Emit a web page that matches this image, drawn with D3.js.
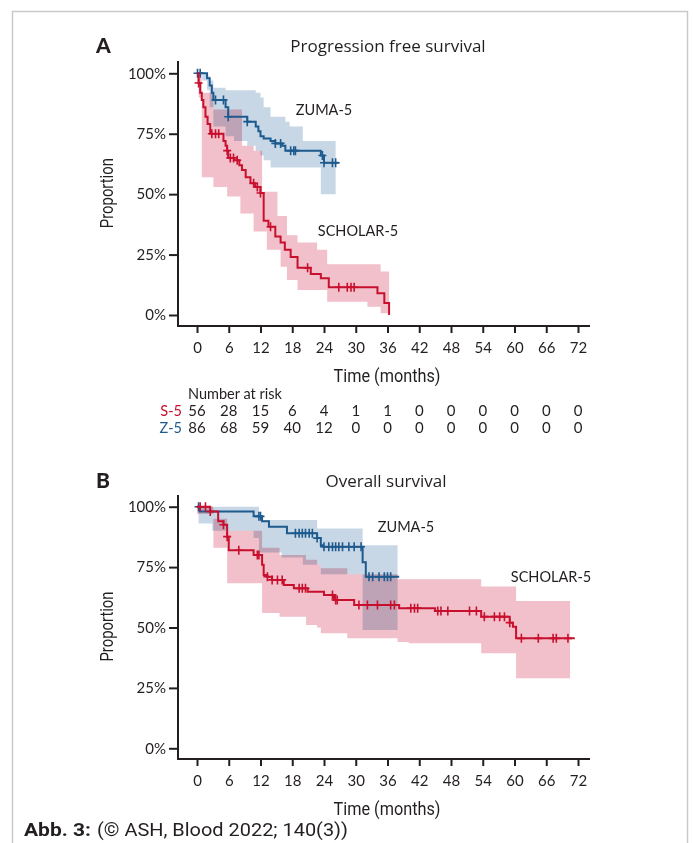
<!DOCTYPE html>
<html>
<head>
<meta charset="utf-8">
<script src="https://cdn.jsdelivr.net/npm/d3@7"></script>
<style>
    body { margin: 0; background: #fff; }
    svg text { fill: #231f20; }
    .lato { font-family: Lato, "Open Sans", sans-serif; }
    .open { font-family: "Open Sans", Lato, sans-serif; }
    .cond { font-family: Roboto, "Liberation Sans", sans-serif; }
</style>
</head>
<body>
<div id="chart"></div>
<script>
// ---- data ----
const xTicks = [0, 6, 12, 18, 24, 30, 36, 42, 48, 54, 60, 66, 72];
const yTicks = [0, 0.25, 0.5, 0.75, 1];
const riskS5 = [56, 28, 15, 6, 4, 1, 1, 0, 0, 0, 0, 0, 0];
const riskZ5 = [86, 68, 59, 40, 12, 0, 0, 0, 0, 0, 0, 0, 0];

// A: progression free survival
const pfsZumaT = [0, 1.9, 2.4, 2.8, 3.1, 5.4, 5.9, 9.5, 11.1, 11.6, 12.0, 12.6, 13.9, 14.8, 16.1, 16.7, 23.4, 24.0, 26.8];
const pfsZumaS = [1.0, 0.98, 0.95, 0.92, 0.89, 0.86, 0.82, 0.80, 0.78, 0.76, 0.74, 0.73, 0.72, 0.71, 0.70, 0.68, 0.66, 0.63, 0.63];
const pfsZumaCens = [0.1, 0.6, 3.5, 5.0, 5.9, 9.5, 14.8, 15.8, 17.7, 18.3, 18.6, 23.7, 24.0, 25.6, 26.2];
const pfsZumaBandT = [0, 1.0, 1.9, 2.4, 3.1, 5.4, 7.0, 9.5, 11.1, 12.0, 12.6, 13.9, 16.7, 17.5, 20.0, 23.4, 26.2];
const pfsZumaLo = [1.0, 0.97, 0.93, 0.86, 0.78, 0.74, 0.72, 0.70, 0.68, 0.66, 0.64, 0.61, 0.61, 0.61, 0.61, 0.50, 0.50];
const pfsZumaHi = [1.0, 1.0, 0.99, 0.97, 0.94, 0.93, 0.93, 0.93, 0.92, 0.90, 0.86, 0.82, 0.80, 0.78, 0.72, 0.72, 0.72];

const pfsScholarT = [0, 0.3, 0.6, 0.9, 1.2, 1.6, 2.0, 2.5, 5.0, 5.4, 5.7, 5.9, 7.0, 8.0, 8.5, 9.2, 10.1, 11.0, 12.0, 12.6, 13.5, 14.8, 15.8, 16.6, 17.7, 19.0, 21.5, 23.4, 24.9, 34.1, 35.4, 36.3];
const pfsScholarS = [1.0, 0.96, 0.92, 0.89, 0.86, 0.82, 0.79, 0.75, 0.72, 0.70, 0.68, 0.65, 0.64, 0.62, 0.60, 0.57, 0.545, 0.53, 0.505, 0.39, 0.365, 0.325, 0.30, 0.27, 0.24, 0.195, 0.17, 0.152, 0.115, 0.09, 0.05, 0.0];
const pfsScholarCens = [0.3, 2.8, 3.5, 4.1, 5.7, 6.3, 6.9, 7.6, 10.7, 11.4, 12.0, 13.9, 20.9, 26.8, 28.4, 29.1, 29.7];
const pfsScholarBandT = [0, 0.3, 0.9, 3.1, 5.7, 8.2, 8.5, 10.7, 12.3, 13.2, 15.2, 15.8, 17.0, 19.0, 22.7, 24.6, 32.2, 34.7, 36.3];
const pfsScholarLo = [1.0, 0.90, 0.57, 0.53, 0.49, 0.42, 0.42, 0.345, 0.345, 0.27, 0.27, 0.20, 0.145, 0.103, 0.103, 0.055, 0.034, 0.007, 0.007];
const pfsScholarHi = [1.0, 1.0, 0.92, 0.85, 0.85, 0.85, 0.70, 0.68, 0.51, 0.51, 0.41, 0.41, 0.33, 0.30, 0.27, 0.21, 0.21, 0.18, 0.18];

// B: overall survival
const osZumaT = [0, 0.5, 10.7, 12.3, 13.6, 17.0, 22.7, 23.4, 23.8, 31.3, 31.9, 38.2];
const osZumaS = [1.0, 0.98, 0.96, 0.94, 0.917, 0.89, 0.87, 0.84, 0.834, 0.77, 0.71, 0.71];
const osZumaCens = [0.3, 11.7, 12.0, 18.6, 19.3, 19.9, 20.5, 21.2, 21.8, 22.7, 24.0, 24.9, 25.6, 26.2, 26.8, 27.5, 28.7, 29.7, 31.0, 32.5, 33.2, 34.4, 35.4, 36.0, 36.6];
const osZumaBandT = [0, 0.3, 2.9, 10.7, 11.7, 12.3, 16.0, 20.0, 22.7, 23.4, 31.3, 37.9];
const osZumaLo = [1.0, 0.93, 0.90, 0.87, 0.81, 0.81, 0.79, 0.76, 0.76, 0.72, 0.49, 0.49];
const osZumaHi = [1.0, 1.0, 1.0, 1.0, 0.945, 0.945, 0.945, 0.945, 0.91, 0.91, 0.84, 0.84];

const osScholarT = [0, 2.5, 4.0, 5.0, 5.7, 6.0, 10.7, 12.3, 12.6, 13.3, 14.2, 16.4, 18.3, 20.9, 24.0, 25.9, 29.7, 38.2, 45.0, 53.7, 59.1, 59.7, 60.3, 71.4];
const osScholarS = [1.0, 0.98, 0.94, 0.925, 0.876, 0.82, 0.80, 0.76, 0.717, 0.71, 0.697, 0.676, 0.662, 0.648, 0.635, 0.614, 0.593, 0.58, 0.568, 0.545, 0.52, 0.503, 0.455, 0.455];
const osScholarCens = [0.6, 1.6, 2.5, 5.0, 5.7, 7.9, 11.4, 11.7, 13.3, 14.2, 15.2, 16.1, 19.3, 19.9, 20.5, 25.6, 26.2, 26.5, 30.6, 32.2, 34.1, 36.6, 37.3, 40.4, 41.1, 41.7, 45.5, 46.1, 47.4, 51.5, 52.8, 54.3, 56.2, 57.2, 58.1, 59.1, 61.3, 64.5, 67.3, 67.9, 70.1];
const osScholarBandT = [0, 3.1, 5.7, 12.3, 15.6, 20.6, 22.7, 23.4, 28.4, 37.9, 40.0, 53.7, 60.3, 70.5];
const osScholarLo = [0.97, 0.83, 0.683, 0.56, 0.545, 0.51, 0.50, 0.476, 0.455, 0.44, 0.435, 0.393, 0.29, 0.29];
const osScholarHi = [1.0, 0.95, 0.90, 0.83, 0.80, 0.78, 0.76, 0.745, 0.72, 0.70, 0.70, 0.67, 0.61, 0.61];

const red = "#c8102e", blue = "#1d5a8e";
const redBand = "#f2c0ca", blueBand = "#c8d7e5";

let svg = d3.select("#chart").append("svg")
    .attr("width", 693)
    .attr("height", 843);

// outer frame
svg.append("rect")
    .attr("x", 12.5).attr("y", 11.5)
    .attr("width", 675).attr("height", 860)
    .attr("fill", "none")
    .attr("stroke", "#c9c9c9")
    .attr("stroke-width", 1.5);

let x = d3.scaleLinear().domain([0, 72]).range([197, 578]);

function stepValue(ts, ss, t) {
    let i = d3.bisectRight(ts, t) - 1;
    return ss[Math.max(0, i)];
}

function drawPanel(p) {
    let y = d3.scaleLinear().domain([0, 1]).range([p.y0, p.y100]);
    let g = svg.append("g");

    // panel letter and title
    g.append("text").attr("class", "lato")
        .attr("x", 96).attr("y", p.titleY + 1)
        .style("font-size", "21px").style("font-weight", "900")
        .text(p.letter);
    g.append("text").attr("class", "open")
        .attr("x", p.titleX).attr("y", p.titleY)
        .attr("text-anchor", "middle")
        .style("font-size", "17px")
        .text(p.title);

    // confidence bands
    let area = d3.area().curve(d3.curveStepAfter)
        .x(d => x(d[0])).y0(d => y(d[1])).y1(d => y(d[2]));
    p.curves.forEach(c => {
        g.append("path")
            .datum(c.bandT.map((t, i) => [t, c.lo[i], c.hi[i]]))
            .attr("d", area)
            .attr("fill", c.band)
            .style("mix-blend-mode", "multiply");
    });

    // step lines and censor marks
    let line = d3.line().curve(d3.curveStepAfter)
        .x(d => x(d[0])).y(d => y(d[1]));
    p.curves.forEach(c => {
        g.append("path")
            .datum(c.t.map((t, i) => [t, c.s[i]]))
            .attr("d", line)
            .attr("fill", "none")
            .attr("stroke", c.color)
            .attr("stroke-width", 2);
        g.selectAll(null)
            .data(c.cens)
            .enter().append("path")
            .attr("d", t => {
                let cx = x(t), cy = y(stepValue(c.t, c.s, t));
                return `M${cx - 4},${cy}H${cx + 4}M${cx},${cy - 4.5}V${cy + 4.5}`;
            })
            .attr("stroke", c.color)
            .attr("stroke-width", 1.6);
    });

    // curve labels
    p.labels.forEach(l => {
        g.append("text").attr("class", "lato")
            .attr("x", l.x).attr("y", l.y)
            .attr("text-anchor", "middle")
            .style("font-size", "14.5px")
            .text(l.text);
    });

    // axes
    let yAxis = g.append("g")
        .attr("transform", "translate(178,0)")
        .call(d3.axisLeft(y).tickValues(yTicks).tickFormat(d3.format(".0%")).tickSize(9).tickPadding(3));
    let xAxis = g.append("g")
        .attr("transform", `translate(0,${p.axisY})`)
        .call(d3.axisBottom(x).tickValues(xTicks).tickSize(7).tickPadding(9));
    [yAxis, xAxis].forEach(a => {
        a.select(".domain").remove();
        a.selectAll("line").attr("stroke", "#231f20").attr("stroke-width", 2);
        a.selectAll("text").attr("class", "lato").style("font-size", "15px").attr("fill", "#231f20");
    });
    g.append("path")
        .attr("d", `M178,${p.axisTop}V${p.axisY}H590`)
        .attr("fill", "none")
        .attr("stroke", "#231f20")
        .attr("stroke-width", 2);

    g.append("text").attr("class", "cond")
        .attr("transform", `translate(113,${(p.y0 + p.y100) / 2 - 1}) rotate(-90)`)
        .attr("text-anchor", "middle")
        .attr("textLength", 70).attr("lengthAdjust", "spacingAndGlyphs")
        .style("font-size", "19px")
        .text("Proportion");
    g.append("text").attr("class", "cond")
        .attr("x", 387).attr("y", p.axisY + 56)
        .attr("text-anchor", "middle")
        .attr("textLength", 107).attr("lengthAdjust", "spacingAndGlyphs")
        .style("font-size", "19px")
        .text("Time (months)");
}

drawPanel({
    letter: "A", title: "Progression free survival", titleX: 388, titleY: 52,
    y0: 315, y100: 73.3, axisY: 326, axisTop: 61,
    curves: [
        { t: pfsZumaT, s: pfsZumaS, cens: pfsZumaCens, bandT: pfsZumaBandT, lo: pfsZumaLo, hi: pfsZumaHi, color: blue, band: blueBand },
        { t: pfsScholarT, s: pfsScholarS, cens: pfsScholarCens, bandT: pfsScholarBandT, lo: pfsScholarLo, hi: pfsScholarHi, color: red, band: redBand }
    ],
    labels: [{ text: "ZUMA-5", x: 324, y: 115 }, { text: "SCHOLAR-5", x: 358, y: 236 }]
});

drawPanel({
    letter: "B", title: "Overall survival", titleX: 386, titleY: 487,
    y0: 748.3, y100: 506.7, axisY: 759, axisTop: 495,
    curves: [
        { t: osZumaT, s: osZumaS, cens: osZumaCens, bandT: osZumaBandT, lo: osZumaLo, hi: osZumaHi, color: blue, band: blueBand },
        { t: osScholarT, s: osScholarS, cens: osScholarCens, bandT: osScholarBandT, lo: osScholarLo, hi: osScholarHi, color: red, band: redBand }
    ],
    labels: [{ text: "ZUMA-5", x: 406, y: 532 }, { text: "SCHOLAR-5", x: 551, y: 582 }]
});

// number at risk table
svg.append("text").attr("class", "lato")
    .attr("x", 188).attr("y", 399)
    .style("font-size", "14.5px")
    .text("Number at risk");
[["S-5", riskS5, red, 416], ["Z-5", riskZ5, blue, 433]].forEach(([name, vals, col, yy]) => {
    svg.append("text").attr("class", "lato")
        .attr("x", 182).attr("y", yy)
        .attr("text-anchor", "end")
        .style("fill", col)
        .style("font-size", "14.5px")
        .text(name);
    svg.selectAll(null)
        .data(vals)
        .enter().append("text").attr("class", "lato")
        .attr("x", (d, i) => x(xTicks[i]))
        .attr("y", yy)
        .attr("text-anchor", "middle")
        .style("font-size", "15px")
        .text(d => d);
});

// caption
svg.append("text").attr("class", "cond")
    .attr("x", 24).attr("y", 836)
    .attr("textLength", 67).attr("lengthAdjust", "spacingAndGlyphs")
    .style("font-size", "18px").style("font-weight", "bold")
    .text("Abb. 3:");
svg.append("text").attr("class", "cond")
    .attr("x", 97).attr("y", 836)
    .attr("textLength", 251).attr("lengthAdjust", "spacingAndGlyphs")
    .style("font-size", "18px")
    .text("(© ASH, Blood 2022; 140(3))");
</script>
</body>
</html>
